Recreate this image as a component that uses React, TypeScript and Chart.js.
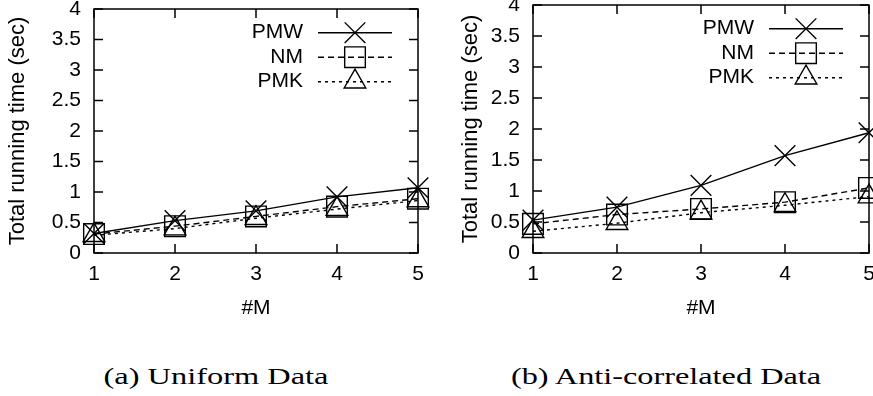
import React, { useEffect, useRef } from 'react';
import { Chart, registerables } from 'chart.js';

Chart.register(...registerables);

// ---- data ----
const M_VALUES = [1, 2, 3, 4, 5];
const Y_TICKS = [0, 0.5, 1, 1.5, 2, 2.5, 3, 3.5, 4];
const Y_TICK_LABELS = ['0', '0.5', '1', '1.5', '2', '2.5', '3', '3.5', '4'];
const X_TICK_LABELS = ['1', '2', '3', '4', '5'];
const SERIES_NAMES = ['PMW', 'NM', 'PMK'];

const UNIFORM_PMW = [0.32, 0.53, 0.69, 0.92, 1.07];
const UNIFORM_NM = [0.31, 0.44, 0.6, 0.76, 0.89];
const UNIFORM_PMK = [0.29, 0.4, 0.57, 0.72, 0.86];

const ANTI_PMW = [0.53, 0.74, 1.09, 1.57, 1.94];
const ANTI_NM = [0.47, 0.62, 0.71, 0.82, 1.05];
const ANTI_PMK = [0.35, 0.48, 0.65, 0.77, 0.91];

const Y_TITLE = 'Total running time (sec)';
const X_TITLE = '#M';
const CAPTIONS = ['(a) Uniform Data', '(b) Anti-correlated Data'];

// ---- styles ----
const SANS = "'Liberation Sans', Arial, Helvetica, sans-serif";
const SERIF = "'Liberation Serif', 'Times New Roman', serif";
const LINE_W = 1.4;
const STYLES = [
  { pointStyle: 'crossRot', radius: 14.6, dash: [] as number[] },
  { pointStyle: 'rect', radius: 14.6, dash: [6, 4] },
  { pointStyle: 'triangle', radius: 12.5, dash: [3, 4] },
];

function drawMarker(ctx: CanvasRenderingContext2D, style: string, x: number, y: number, r: number) {
  ctx.beginPath();
  if (style === 'crossRot') {
    const o = Math.SQRT1_2 * r;
    ctx.moveTo(x - o, y - o);
    ctx.lineTo(x + o, y + o);
    ctx.moveTo(x + o, y - o);
    ctx.lineTo(x - o, y + o);
  } else if (style === 'rect') {
    const s = Math.SQRT1_2 * r;
    ctx.rect(x - s, y - s, 2 * s, 2 * s);
  } else {
    let a = 0;
    ctx.moveTo(x + Math.sin(a) * r, y - Math.cos(a) * r);
    a += (2 * Math.PI) / 3;
    ctx.lineTo(x + Math.sin(a) * r, y - Math.cos(a) * r);
    a += (2 * Math.PI) / 3;
    ctx.lineTo(x + Math.sin(a) * r, y - Math.cos(a) * r);
    ctx.closePath();
  }
  ctx.stroke();
}

const framePlugin = {
  id: 'gnuplotFrame',
  beforeDatasetsDraw(chart: any) {
    const { ctx, chartArea: a, scales } = chart;
    const T = 9;
    ctx.save();
    ctx.strokeStyle = '#000';
    ctx.lineWidth = 1.5;
    ctx.setLineDash([]);
    ctx.strokeRect(a.left, a.top, a.right - a.left, a.bottom - a.top);
    ctx.beginPath();
    for (const v of Y_TICKS) {
      const y = scales.y.getPixelForValue(v);
      ctx.moveTo(a.left, y);
      ctx.lineTo(a.left + T, y);
      ctx.moveTo(a.right, y);
      ctx.lineTo(a.right - T, y);
    }
    for (const v of M_VALUES) {
      const x = scales.x.getPixelForValue(v);
      ctx.moveTo(x, a.bottom);
      ctx.lineTo(x, a.bottom - T);
      ctx.moveTo(x, a.top);
      ctx.lineTo(x, a.top + T);
    }
    ctx.stroke();
    ctx.restore();
  },
};

const legendPlugin = {
  id: 'gnuplotLegend',
  afterDatasetsDraw(chart: any) {
    const { ctx, chartArea: a } = chart;
    ctx.save();
    chart.data.datasets.forEach((ds: any, i: number) => {
      const y = a.top + 23.7 + 24.5 * i;
      ctx.fillStyle = '#000';
      ctx.font = `21px ${SANS}`;
      ctx.textAlign = 'right';
      ctx.textBaseline = 'middle';
      ctx.fillText(ds.label, a.right - 115, y);
      ctx.strokeStyle = '#000';
      ctx.lineWidth = LINE_W;
      ctx.setLineDash(ds.borderDash || []);
      ctx.beginPath();
      ctx.moveTo(a.right - 100, y);
      ctx.lineTo(a.right - 26, y);
      ctx.stroke();
      ctx.setLineDash([]);
      drawMarker(ctx, ds.pointStyle, a.right - 63, y, ds.pointRadius);
    });
    ctx.restore();
  },
};

type PanelProps = {
  x: number;
  width: number;
  height: number;
  plot: { left: number; top: number; right: number; bottom: number };
  yTitlePad: number;
  series: number[][];
};

function Panel({ x, width, height, plot, yTitlePad, series }: PanelProps) {
  const ref = useRef<HTMLCanvasElement>(null);
  useEffect(() => {
    if (!ref.current) return;
    const datasets = series.map((vals, i) => ({
      label: SERIES_NAMES[i],
      data: vals.map((v, j) => ({ x: M_VALUES[j], y: v })),
      borderColor: '#000',
      borderWidth: LINE_W,
      borderDash: STYLES[i].dash,
      pointStyle: STYLES[i].pointStyle,
      pointRadius: STYLES[i].radius,
      pointBorderColor: '#000',
      pointBackgroundColor: 'rgba(0,0,0,0)',
      pointBorderWidth: LINE_W,
      fill: false,
      tension: 0,
      clip: false,
    }));
    const chart = new Chart(ref.current, {
      type: 'line',
      data: { datasets },
      options: {
        animation: false,
        responsive: false,
        devicePixelRatio: 1,
        events: [],
        layout: {
          autoPadding: false,
          padding: { left: 0, top: plot.top, right: width - plot.right, bottom: 0 },
        },
        plugins: { legend: { display: false }, tooltip: { enabled: false } },
        scales: {
          x: {
            type: 'linear',
            min: 1,
            max: 5,
            grid: { display: false, drawTicks: false },
            border: { display: false },
            afterBuildTicks: (s: any) => {
              s.ticks = M_VALUES.map((v) => ({ value: v }));
            },
            ticks: {
              autoSkip: false,
              padding: 9,
              color: '#000',
              font: { family: SANS, size: 21 },
              callback: (v: any) => {
                const i = M_VALUES.indexOf(Number(v));
                return i >= 0 ? X_TICK_LABELS[i] : '';
              },
            },
            title: {
              display: true,
              text: X_TITLE,
              color: '#000',
              font: { family: SANS, size: 21 },
              padding: { top: 0, bottom: 9 },
            },
            afterFit: (s: any) => {
              s.height = height - plot.bottom;
              s.paddingLeft = 0;
              s.paddingRight = 0;
            },
          },
          y: {
            type: 'linear',
            min: 0,
            max: 4,
            grid: { display: false, drawTicks: false },
            border: { display: false },
            afterBuildTicks: (s: any) => {
              s.ticks = Y_TICKS.map((v) => ({ value: v }));
            },
            ticks: {
              autoSkip: false,
              padding: 13,
              color: '#000',
              font: { family: SANS, size: 21 },
              callback: (v: any) => {
                const i = Y_TICKS.indexOf(Number(v));
                return i >= 0 ? Y_TICK_LABELS[i] : '';
              },
            },
            title: {
              display: true,
              text: Y_TITLE,
              color: '#000',
              font: { family: SANS, size: 22 },
              padding: { top: yTitlePad, bottom: 0 },
            },
            afterFit: (s: any) => {
              s.width = plot.left;
              s.paddingTop = 0;
              s.paddingBottom = 0;
            },
          },
        },
      },
      plugins: [framePlugin, legendPlugin],
    } as any);
    return () => chart.destroy();
  }, []);
  return (
    <div style={{ position: 'absolute', left: x, top: 0, width, height }}>
      <canvas ref={ref} width={width} height={height} style={{ width, height, display: 'block' }} />
    </div>
  );
}

function Caption({ text, cx, width, cy }: { text: string; cx: number; width: number; cy: number }) {
  const size = 24;
  let scale = 1;
  const c = document.createElement('canvas').getContext('2d');
  if (c) {
    c.font = `${size}px ${SERIF}`;
    const w = c.measureText(text).width;
    if (w > 0) scale = width / w;
  }
  return (
    <div
      style={{
        position: 'absolute',
        left: cx - 300,
        width: 600,
        top: cy - size * 0.6,
        height: size * 1.2,
        lineHeight: `${size * 1.2}px`,
        textAlign: 'center',
        fontFamily: SERIF,
        fontSize: size,
        color: '#000',
        whiteSpace: 'nowrap',
        transform: `scaleX(${scale})`,
        transformOrigin: 'center',
      }}
    >
      {text}
    </div>
  );
}

export default function App() {
  return (
    <div
      style={{
        position: 'fixed',
        left: 0,
        top: 0,
        width: 873,
        height: 396,
        background: '#fff',
        overflow: 'hidden',
      }}
    >
      <Panel
        x={0}
        width={440}
        height={330}
        plot={{ left: 94, top: 9, right: 418, bottom: 253 }}
        yTitlePad={5}
        series={[UNIFORM_PMW, UNIFORM_NM, UNIFORM_PMK]}
      />
      <Panel
        x={440}
        width={433}
        height={330}
        plot={{ left: 93, top: 5, right: 429, bottom: 253 }}
        yTitlePad={18}
        series={[ANTI_PMW, ANTI_NM, ANTI_PMK]}
      />
      <Caption text={CAPTIONS[0]} cx={215.5} width={225} cy={376} />
      <Caption text={CAPTIONS[1]} cx={666} width={312} cy={376} />
    </div>
  );
}
